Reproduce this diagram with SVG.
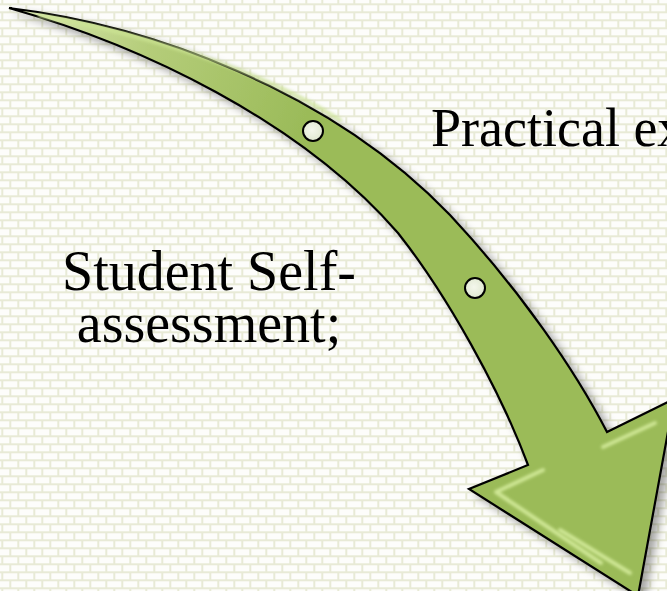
<svg xmlns="http://www.w3.org/2000/svg" width="667" height="591" viewBox="0 0 667 591">
  <defs>
    <pattern id="bricks" patternUnits="userSpaceOnUse" width="16" height="16" patternTransform="translate(11.3 5.3)">
      <rect width="16" height="16" fill="#e8ead6"/>
      <rect x="0" y="0" width="14" height="6" fill="#fdfdfb"/>
      <rect x="8" y="8" width="14" height="6" fill="#fdfdfb"/>
      <rect x="-8" y="8" width="14" height="6" fill="#fdfdfb"/>
    </pattern>
    <linearGradient id="shaftGrad" gradientUnits="userSpaceOnUse" x1="10" y1="10" x2="300" y2="130">
      <stop offset="0" stop-color="#dbe8b4"/>
      <stop offset="0.45" stop-color="#b5cd7a"/>
      <stop offset="1" stop-color="#9bbb59"/>
    </linearGradient>
    <filter id="shadow" x="-10%" y="-10%" width="130%" height="130%">
      <feDropShadow dx="6" dy="5" stdDeviation="4" flood-color="#000" flood-opacity="0.35"/>
    </filter>
    <filter id="soft" x="-20%" y="-20%" width="140%" height="140%">
      <feGaussianBlur stdDeviation="1.8"/>
    </filter>
    <radialGradient id="dotGrad" cx="0.45" cy="0.45" r="0.6">
      <stop offset="0" stop-color="#f4f7ec"/>
      <stop offset="1" stop-color="#dfe8cf"/>
    </radialGradient>
    <style>
      .lbl { font-family: "Liberation Serif", "Times New Roman", serif; fill: #000; }
      .dot { fill: url(#dotGrad); stroke: #000; stroke-width: 2; }
      .bevel { fill: none; stroke: #cfe795; stroke-width: 4; stroke-linecap: round; stroke-linejoin: round; filter: url(#soft); }
    </style>
  </defs>

  <rect width="667" height="591" fill="url(#bricks)"/>

  <g id="arrow">
    <path filter="url(#shadow)" fill="url(#shaftGrad)" stroke="#000" stroke-width="2.2" stroke-linejoin="miter"
      d="M 9,8 C 150,25 330,90 450,215 C 520,290 575,370 607,432 L 674,399 L 638,596 L 469,489 L 528,465 C 500,390 447,295 398,233 C 300,120 140,45 9,8 Z"/>
    <path class="bevel" d="M 40,16 C 150,35 260,70 340,120" stroke="#e4f2c0" opacity="0.7"/>
    <path class="bevel" d="M 603,447 L 655,423"/>
    <path class="bevel" d="M 543,470 L 496,492 L 601,563"/>
    <path class="bevel" d="M 560,530 L 630,573"/>
    <circle class="dot" cx="313" cy="131" r="10"/>
    <circle class="dot" cx="475" cy="288" r="10"/>
  </g>

  <g id="label-practical">
    <text class="lbl" x="431" y="146" font-size="54">Practical ex</text>
  </g>
  <g id="label-self">
    <text class="lbl" x="209" y="290" font-size="56" text-anchor="middle">Student Self-</text>
    <text class="lbl" x="209" y="342" font-size="56" text-anchor="middle">assessment;</text>
  </g>
</svg>
